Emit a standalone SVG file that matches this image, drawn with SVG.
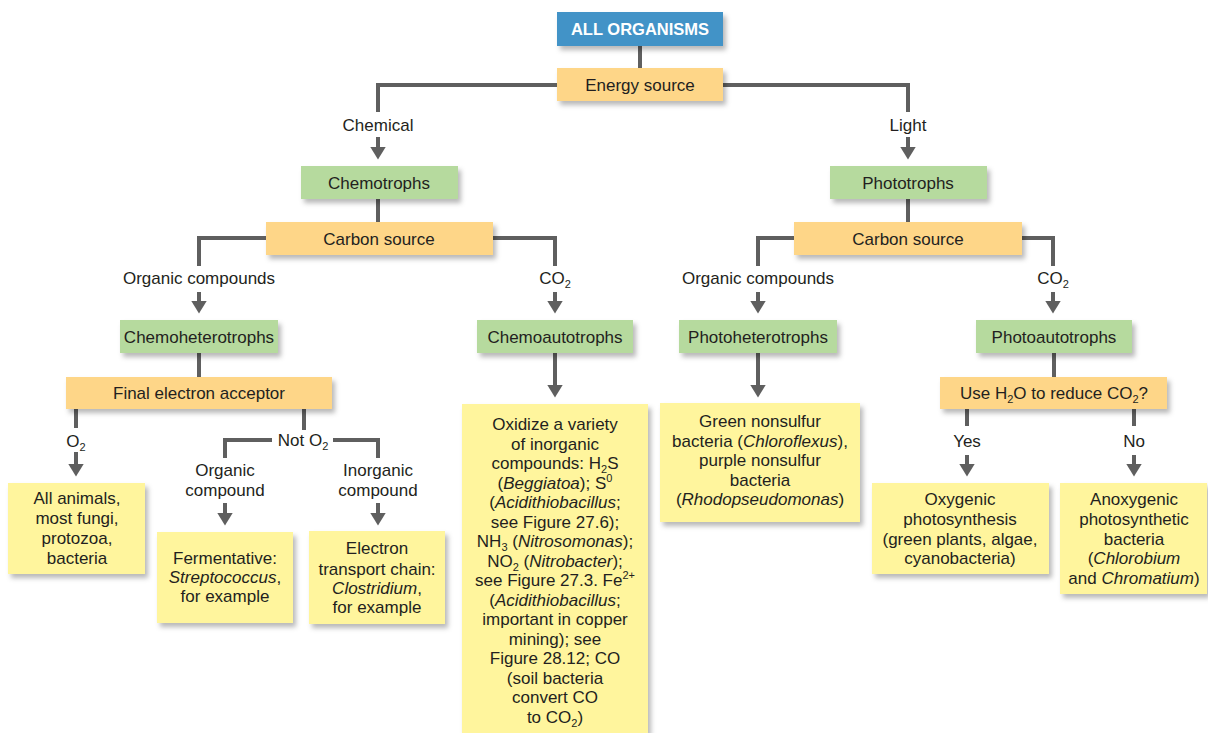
<svg xmlns="http://www.w3.org/2000/svg" width="1208" height="733" viewBox="0 0 1208 733">
<defs>
<filter id="sh" x="-10%" y="-10%" width="130%" height="140%">
<feDropShadow dx="3" dy="4" stdDeviation="2.5" flood-color="#000" flood-opacity="0.28"/>
</filter>
<marker id="ah" viewBox="0 0 13 16" markerUnits="userSpaceOnUse" markerWidth="13" markerHeight="16" refX="0.5" refY="8" orient="auto">
<path d="M0,0 L13,8 L0,16 z" fill="#5f5f5f"/>
</marker>
<style>
.bx{filter:url(#sh)}
.g{fill:#b6da9e}
.o{fill:#fed688}
.y{fill:#fff59d}
.b{fill:#4393c7}
text{font-family:"Liberation Sans",Arial,Helvetica,sans-serif;font-size:17px;fill:#231f20;text-anchor:middle}
.w{fill:#ffffff;font-weight:bold;font-size:16.5px}
.i{font-style:italic}
.s{font-size:11px}
.ln{stroke:#5f5f5f;stroke-width:4;fill:none}
.ar{stroke:#5f5f5f;stroke-width:4;fill:none;marker-end:url(#ah)}
</style>
</defs>
<rect width="1208" height="733" fill="#ffffff"/>

<g id="connectors">
<line class="ln" x1="640" y1="46" x2="640" y2="68"/>
<polyline class="ln" points="557,85 378,85 378,112"/>
<polyline class="ln" points="723,85 908,85 908,112"/>
<line class="ar" x1="378" y1="137" x2="378" y2="147"/>
<line class="ar" x1="908" y1="137" x2="908" y2="147"/>
<line class="ln" x1="378" y1="199" x2="378" y2="222"/>
<line class="ln" x1="908" y1="199" x2="908" y2="222"/>
<polyline class="ln" points="266,238 199,238 199,266"/>
<polyline class="ln" points="493,238 555,238 555,266"/>
<polyline class="ln" points="794,238 758,238 758,266"/>
<polyline class="ln" points="1022,238 1053,238 1053,266"/>
<line class="ar" x1="199" y1="292" x2="199" y2="301"/>
<line class="ar" x1="555" y1="292" x2="555" y2="301"/>
<line class="ar" x1="758" y1="292" x2="758" y2="301"/>
<line class="ar" x1="1053" y1="292" x2="1053" y2="301"/>
<line class="ln" x1="199" y1="353" x2="199" y2="377"/>
<line class="ar" x1="555" y1="353" x2="555" y2="385"/>
<line class="ar" x1="758" y1="353" x2="758" y2="385"/>
<line class="ln" x1="1054" y1="353" x2="1054" y2="377"/>
<line class="ln" x1="76" y1="409" x2="76" y2="428"/>
<line class="ar" x1="76" y1="452" x2="76" y2="464"/>
<line class="ln" x1="304" y1="409" x2="304" y2="430"/>
<polyline class="ln" points="272,440 225,440 225,458"/>
<polyline class="ln" points="333,440 378,440 378,458"/>
<line class="ar" x1="225" y1="503" x2="225" y2="513"/>
<line class="ar" x1="378" y1="503" x2="378" y2="513"/>
<line class="ln" x1="967" y1="409" x2="967" y2="426"/>
<line class="ln" x1="1134" y1="409" x2="1134" y2="426"/>
<line class="ar" x1="967" y1="455" x2="967" y2="464"/>
<line class="ar" x1="1134" y1="455" x2="1134" y2="464"/>
</g>

<g id="labels">
<text x="378" y="131">Chemical</text>
<text x="908" y="131">Light</text>
<text x="199" y="284">Organic compounds</text>
<text x="555" y="284">CO<tspan class="s" dy="4">2</tspan></text>
<text x="758" y="284">Organic compounds</text>
<text x="1053" y="284">CO<tspan class="s" dy="4">2</tspan></text>
<text x="76" y="447">O<tspan class="s" dy="4">2</tspan></text>
<text x="303" y="446">Not O<tspan class="s" dy="4">2</tspan></text>
<text x="225" y="476">Organic</text>
<text x="225" y="496">compound</text>
<text x="378" y="476">Inorganic</text>
<text x="378" y="496">compound</text>
<text x="967" y="447">Yes</text>
<text x="1134" y="447">No</text>
</g>

<g id="all-organisms"><rect class="bx b" x="557" y="12" width="166" height="34"/><text class="w" x="640" y="35">ALL ORGANISMS</text></g>
<g id="energy-source"><rect class="bx o" x="557" y="68" width="166" height="33"/><text x="640" y="91">Energy source</text></g>
<g id="chemotrophs"><rect class="bx g" x="301" y="166" width="157" height="33"/><text x="379" y="189">Chemotrophs</text></g>
<g id="phototrophs"><rect class="bx g" x="830" y="166" width="157" height="33"/><text x="908" y="189">Phototrophs</text></g>
<g id="carbon-source-chemo"><rect class="bx o" x="266" y="222" width="227" height="33"/><text x="379" y="245">Carbon source</text></g>
<g id="carbon-source-photo"><rect class="bx o" x="794" y="222" width="228" height="33"/><text x="908" y="245">Carbon source</text></g>
<g id="chemoheterotrophs"><rect class="bx g" x="120" y="320" width="158" height="33"/><text x="199" y="343">Chemoheterotrophs</text></g>
<g id="chemoautotrophs"><rect class="bx g" x="477" y="320" width="156" height="33"/><text x="555" y="343">Chemoautotrophs</text></g>
<g id="photoheterotrophs"><rect class="bx g" x="679" y="320" width="158" height="33"/><text x="758" y="343">Photoheterotrophs</text></g>
<g id="photoautotrophs"><rect class="bx g" x="976" y="320" width="156" height="33"/><text x="1054" y="343">Photoautotrophs</text></g>
<g id="final-electron-acceptor"><rect class="bx o" x="66" y="377" width="266" height="32"/><text x="199" y="399">Final electron acceptor</text></g>
<g id="use-h2o"><rect class="bx o" x="940" y="377" width="227" height="32"/><text x="1054" y="399">Use H<tspan class="s" dy="4">2</tspan><tspan dy="-4">O to reduce CO</tspan><tspan class="s" dy="4">2</tspan><tspan dy="-4">?</tspan></text></g>

<g id="aerobic"><rect class="bx y" x="8" y="483" width="137" height="91"/>
<text x="77" y="504">All animals,</text><text x="77" y="524">most fungi,</text><text x="77" y="544">protozoa,</text><text x="77" y="564">bacteria</text></g>
<g id="fermentative"><rect class="bx y" x="157" y="532" width="136" height="91"/>
<text x="225" y="564">Fermentative:</text><text x="225" y="583"><tspan class="i">Streptococcus</tspan>,</text><text x="225" y="602">for example</text></g>
<g id="electron-transport"><rect class="bx y" x="309" y="531" width="136" height="93"/>
<text x="377" y="554">Electron</text><text x="377" y="575">transport chain:</text><text x="377" y="594"><tspan class="i">Clostridium</tspan>,</text><text x="377" y="613">for example</text></g>

<g id="chemoautotroph-examples"><rect class="bx y" x="462" y="404" width="186" height="329"/>
<text x="555" y="430">Oxidize a variety</text>
<text x="555" y="449.5">of inorganic</text>
<text x="555" y="469">compounds: H<tspan class="s" dy="4">2</tspan><tspan dy="-4">S</tspan></text>
<text x="555" y="488.5">(<tspan class="i">Beggiatoa</tspan>); S<tspan class="s" dy="-7">0</tspan></text>
<text x="555" y="508">(<tspan class="i">Acidithiobacillus</tspan>;</text>
<text x="555" y="527.5">see Figure 27.6);</text>
<text x="555" y="547">NH<tspan class="s" dy="4">3</tspan><tspan dy="-4"> (</tspan><tspan class="i">Nitrosomonas</tspan>);</text>
<text x="555" y="566.5">NO<tspan class="s" dy="4">2</tspan><tspan dy="-4"> (</tspan><tspan class="i">Nitrobacter</tspan>);</text>
<text x="555" y="586">see Figure 27.3. Fe<tspan class="s" dy="-7">2+</tspan></text>
<text x="555" y="605.5">(<tspan class="i">Acidithiobacillus</tspan>;</text>
<text x="555" y="625">important in copper</text>
<text x="555" y="644.5">mining); see</text>
<text x="555" y="664">Figure 28.12; CO</text>
<text x="555" y="683.5">(soil bacteria</text>
<text x="555" y="703">convert CO</text>
<text x="555" y="722.5">to CO<tspan class="s" dy="4">2</tspan><tspan dy="-4">)</tspan></text>
</g>

<g id="photoheterotroph-examples"><rect class="bx y" x="660" y="403" width="200" height="119"/>
<text x="760" y="427">Green nonsulfur</text>
<text x="760" y="447">bacteria (<tspan class="i">Chloroflexus</tspan>),</text>
<text x="760" y="466">purple nonsulfur</text>
<text x="760" y="486">bacteria</text>
<text x="760" y="505">(<tspan class="i">Rhodopseudomonas</tspan>)</text>
</g>

<g id="oxygenic"><rect class="bx y" x="872" y="483" width="177" height="91"/>
<text x="960" y="505">Oxygenic</text><text x="960" y="525">photosynthesis</text><text x="960" y="545">(green plants, algae,</text><text x="960" y="564">cyanobacteria)</text></g>
<g id="anoxygenic"><rect class="bx y" x="1060" y="483" width="147" height="111"/>
<text x="1134" y="505">Anoxygenic</text><text x="1134" y="525">photosynthetic</text><text x="1134" y="545">bacteria</text><text x="1134" y="564">(<tspan class="i">Chlorobium</tspan></text><text x="1134" y="584">and <tspan class="i">Chromatium</tspan>)</text></g>
</svg>
